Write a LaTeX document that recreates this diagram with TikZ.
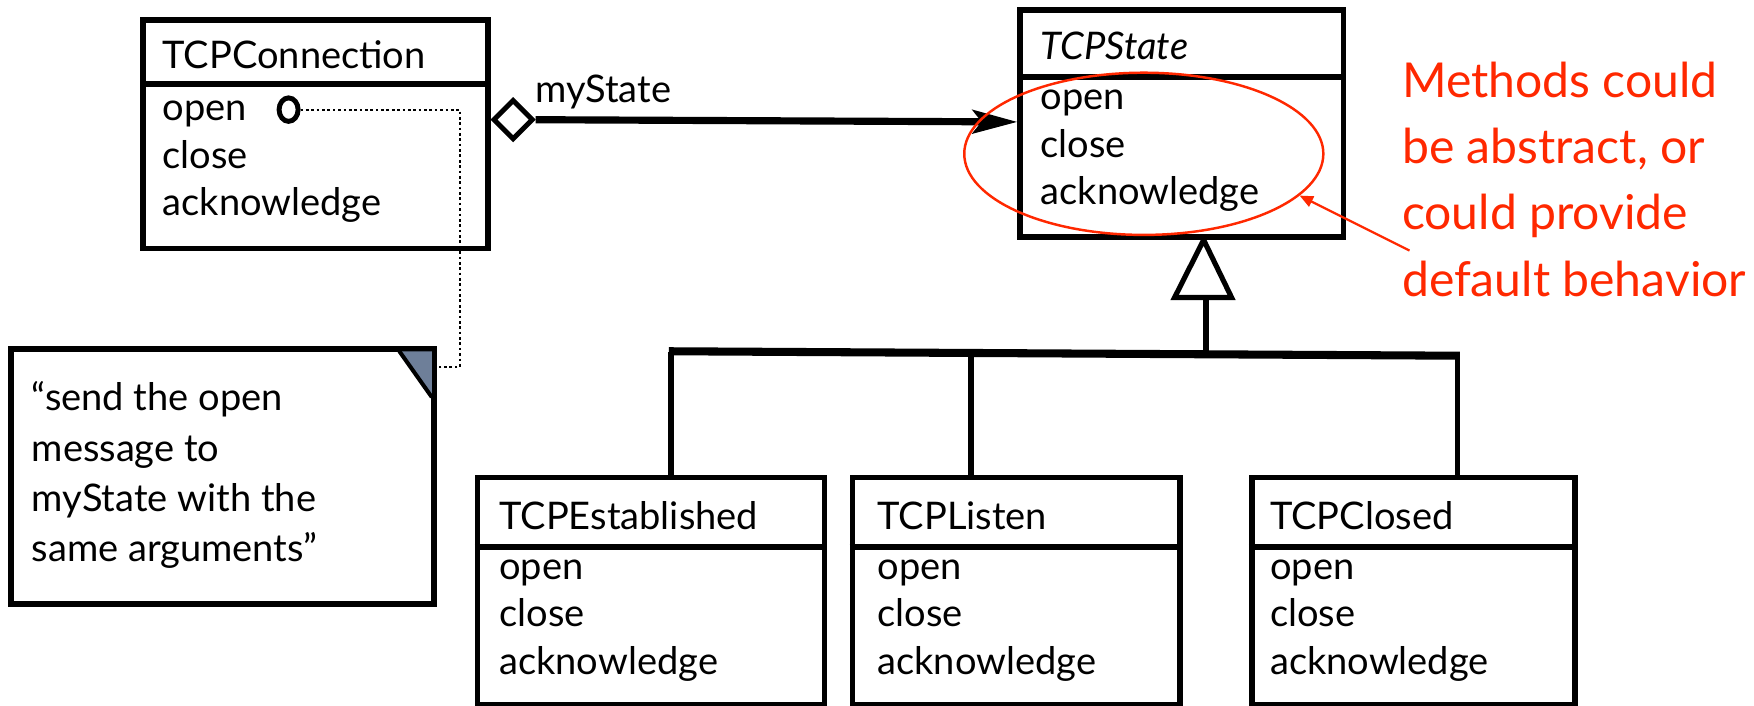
\documentclass[tikz,border=0pt]{standalone}
\usepackage{fontspec}
\setmainfont{Lato}
\usetikzlibrary{shapes.geometric,arrows.meta,fit}
\definecolor{notered}{RGB}{255,40,0}
\definecolor{foldblue}{RGB}{110,127,153}

% three method lines of a class compartment: prefix, x, first baseline
\newcommand\clsbody[3]{%
  \node[txt] (#1-open)  at (#2,#3)      {open};
  \node[txt] (#1-close) at (#2,#3+42.5) {close};
  \node[txt] (#1-ack)   at (#2,#3+85)   {acknowledge};
}

\begin{document}
\begin{tikzpicture}[x=0.5pt,y=-0.5pt,
  box/.style={draw, line width=2.5pt, inner sep=0pt, fill=white},
  sep/.style={line width=2.5pt},
  txt/.style={anchor=base west, inner sep=0pt, font=\fontsize{17}{21.5}\selectfont},
  link/.style={line width=2.4pt},
  redtxt/.style={text=notered, align=left, anchor=north west, inner sep=0pt,
                 font=\fontsize{21.5}{29.6}\selectfont},
]
\useasboundingbox (0,0) rectangle (1568,631);

% ---- TCPConnection
\node[box, fit={(128,18) (436,222)}] (conn) {};
\draw[sep] (conn.west |- 0,75) -- (conn.east |- 0,75);
\node[txt] (conn-name) at (145,61) {TCPConnection};
\clsbody{conn}{145}{108}
\node[draw, ellipse, line width=2.2pt, inner sep=0pt,
      minimum width=8.5pt, minimum height=10.5pt] (anc) at (258,98) {};

% ---- TCPState (abstract)
\node[box, fit={(912,9) (1201,212)}] (state) {};
\draw[sep] (state.west |- 0,69) -- (state.east |- 0,69);
\node[txt] (state-name) at (930,53) {\itshape TCPState};
\clsbody{state}{930}{98}

% ---- concrete states
\node[box, fit={(427,427) (737,630)}] (est) {};
\draw[sep] (est.west |- 0,489) -- (est.east |- 0,489);
\node[txt] (est-name) at (446,473) {TCPEstablished};
\clsbody{est}{446}{518}

\node[box, fit={(762,427) (1055,630)}] (lis) {};
\draw[sep] (lis.west |- 0,489) -- (lis.east |- 0,489);
\node[txt] (lis-name) at (784,473) {TCPListen};
\clsbody{lis}{784}{518}

\node[box, fit={(1119,427) (1408,630)}] (clo) {};
\draw[sep] (clo.west |- 0,489) -- (clo.east |- 0,489);
\node[txt] (clo-name) at (1135,473) {TCPClosed};
\clsbody{clo}{1135}{518}

% ---- aggregation myState
\node[draw, diamond, aspect=1, line width=2.2pt, inner sep=0pt, fill=white,
      minimum width=18pt, minimum height=18pt, anchor=west] (dia) at (conn.east |- 0,107) {};
\coordinate (tip) at (state.west |- 0,109);
\draw[line width=3.2pt, -{Stealth[length=20pt,width=10.5pt,inset=4pt]}] (dia.east) -- (tip);
\node[txt] (role) at (478,92) {myState};

% ---- generalization
\coordinate (apex) at (state.south -| 1076,0);
\coordinate (bl) at (1050,266);
\coordinate (br) at (1101,266);
\draw[line width=2.3pt, fill=white, line join=miter] (apex) -- (br) -- (bl) -- cycle;
\coordinate (stem) at (1078,266);
\coordinate (busL) at (598,314);
\coordinate (busR) at (1305,318);
\draw[link] (stem) -- (1078,314);
\draw[line width=3.6pt] (busL) -- (busR);
\coordinate (d1) at (600,315);
\coordinate (d2) at (868,316);
\coordinate (d3) at (1303,318);
\draw[link] (d1) -- (d1 |- est.north);
\draw[link] (d2) -- (d2 |- lis.north);
\draw[link] (d3) -- (d3 |- clo.north);

% ---- note attached to open
\node[box, fit={(10,312) (388,540)}] (note) {};
\fill[foldblue] (357,314) -- (386,314) -- (386,355) -- cycle;
\draw[line width=1.8pt] (357,314) -- (386,355);
\node[anchor=north west, align=left, inner sep=0pt,
      font=\fontsize{17}{22.5}\selectfont] (notetext) at (28,341)
  {“send the open\\message to\\myState with the\\same arguments”};
\coordinate (bend) at (411,98);
\draw[line width=1pt, dash pattern=on 1.2pt off 1.2pt]
  (anc.east) -- (bend) |- (note.east |- 0,328);

% ---- remark on abstract methods
\node[draw=notered, ellipse, line width=1.1pt, inner sep=0pt,
      minimum width=160.5pt, minimum height=72.5pt] (hl) at (1022.5,137.5) {};
\node[redtxt] (remark) at (1253,55)
  {Methods could\\be abstract, or\\could provide\\default behavior};
\coordinate (ptr) at (1260,224);
\draw[notered, line width=1pt, -{Triangle[length=6pt,width=5pt]}] (ptr) -- (hl.-15);
\end{tikzpicture}
\end{document}
